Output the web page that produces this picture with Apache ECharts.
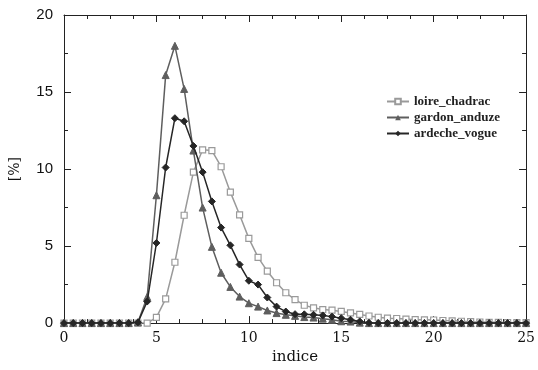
<!DOCTYPE html>
<html><head><meta charset="utf-8">
<script src="https://cdn.jsdelivr.net/npm/echarts@6/dist/echarts.min.js"></script>
<style>html,body{margin:0;padding:0;background:#fff}#c{width:538px;height:370px}</style>
</head><body><div id="c"></div>
<script>
const indice = [];
for (let i = 0; i <= 50; i++) indice.push(i * 0.5);
const seriesNames = ['loire_chadrac', 'gardon_anduze', 'ardeche_vogue'];
const loire = [0,0,0,0,0,0,0,0,0,0,
  0.37,1.57,3.95,7.0,9.8,11.25,11.2,10.15,8.5,7.03,
  5.5,4.27,3.37,2.62,1.97,1.52,1.16,0.99,0.88,0.84,
  0.76,0.66,0.56,0.46,0.38,0.32,0.3,0.26,0.22,0.21,
  0.2,0.17,0.15,0.12,0.09,0.07,0.05,0.05,0.04,0.03,0.03];
const gardon = [0,0,0,0,0,0,0,0,
  0.05,1.7,8.3,16.1,18.0,15.2,11.2,7.5,4.95,3.27,2.35,1.72,
  1.29,1.07,0.82,0.65,0.54,0.47,0.39,0.36,0.29,0.22,0.12,0.1,0.03,
  0,0,0,0,0,0,0,0,0,0,0,0,0,0,0,0,0,0];
const ardeche = [0,0,0,0,0,0,0,0,
  0.05,1.4,5.2,10.1,13.3,13.1,11.5,9.8,7.9,6.2,5.05,3.8,
  2.75,2.5,1.66,1.07,0.75,0.58,0.57,0.54,0.5,0.42,0.32,0.22,0.11,0.02,
  0,0,0,0,0,0,0,0,0,0,0,0,0,0,0,0,0];
const xTicks = [0,5,10,15,20,25];
const yTicks = [0,5,10,15,20];

function pairs(v){ return indice.map((x,i)=>[x, v[i]]); }
const colors = ['#9a9a9a', '#5e5e5e', '#262626'];
const chart = echarts.init(document.getElementById('c'));
const axLine = {show:true, onZero:false, lineStyle:{color:'#222', width:1}};
const tick = {show:true, inside:true, length:7, lineStyle:{color:'#222'}};
chart.setOption({
  animation:false,
  backgroundColor:'#fff',
  grid:{left:63, right:7, top:15, bottom:45, containLabel:false},
  legend:{
    data: seriesNames.map(n=>({name:n})),
    orient:'vertical', left:386, top:95, padding:0, itemWidth:22, itemHeight:7, itemGap:3,
    textStyle:{fontFamily:'Liberation Serif', fontWeight:'bold', fontSize:13, color:'#222'}
  },
  xAxis:[{
    type:'value', min:xTicks[0], max:xTicks[xTicks.length-1], interval:5,
    name:'indice', nameLocation:'middle', nameGap:25,
    nameTextStyle:{fontFamily:'DejaVu Serif', fontSize:15, color:'#111'},
    axisLine:axLine, axisTick:tick,
    minorTick:{show:true, splitNumber:4, length:4, lineStyle:{color:'#222'}},
    axisLabel:{fontFamily:'DejaVu Serif', fontSize:14, color:'#111', margin:8},
    splitLine:{show:false}
  },{
    type:'value', position:'top', min:0, max:25, interval:5,
    axisLine:axLine, axisTick:tick,
    minorTick:{show:true, splitNumber:4, length:4, lineStyle:{color:'#222'}},
    axisLabel:{show:false}, splitLine:{show:false}
  }],
  yAxis:[{
    type:'value', min:yTicks[0], max:yTicks[yTicks.length-1], interval:5,
    name:'[%]', nameLocation:'middle', nameGap:42, nameRotate:90,
    nameTextStyle:{fontFamily:'DejaVu Serif', fontSize:14, color:'#111'},
    axisLine:axLine, axisTick:tick,
    minorTick:{show:true, splitNumber:2, length:4, lineStyle:{color:'#222'}},
    axisLabel:{fontFamily:'Liberation Sans', fontSize:15, color:'#111', margin:11},
    splitLine:{show:false}
  },{
    type:'value', position:'right', min:0, max:20, interval:5,
    axisLine:axLine, axisTick:tick,
    minorTick:{show:true, splitNumber:2, length:4, lineStyle:{color:'#222'}},
    axisLabel:{show:false}, splitLine:{show:false}
  }],
  series:[
    {name:seriesNames[0], type:'line', data:pairs(loire), symbol:'rect', symbolSize:6,
     lineStyle:{color:colors[0], width:1.5},
     itemStyle:{color:'#fff', borderColor:colors[0], borderWidth:1.2}, z:2},
    {name:seriesNames[1], type:'line', data:pairs(gardon), symbol:'triangle', symbolSize:7,
     lineStyle:{color:colors[1], width:1.5},
     itemStyle:{color:colors[1], borderColor:colors[1]}, z:3},
    {name:seriesNames[2], type:'line', data:pairs(ardeche), symbol:'diamond', symbolSize:7,
     lineStyle:{color:colors[2], width:1.5},
     itemStyle:{color:colors[2], borderColor:colors[2]}, z:4}
  ]
});
</script></body></html>
